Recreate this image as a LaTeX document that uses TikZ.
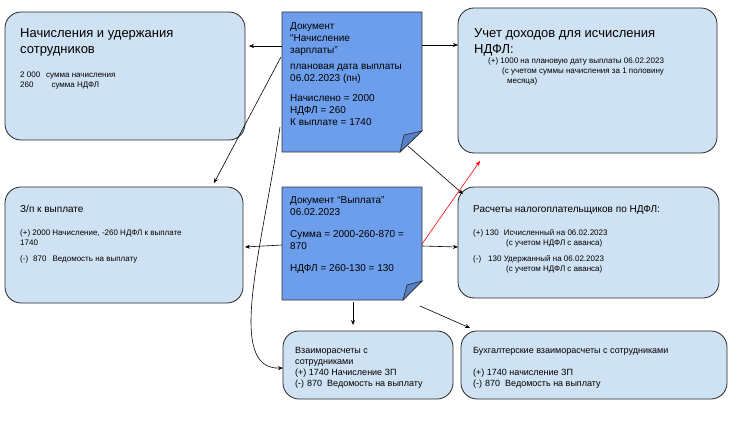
\documentclass[tikz,border=0pt]{standalone}
\usepackage{fontspec}
\setmainfont{Liberation Sans}
\usetikzlibrary{arrows.meta}
\begin{document}
\begin{tikzpicture}[x=1pt,y=-1pt,
  box/.style={draw=black!85,fill=blue!20!cyan!10!white,fill=boxfill,rounded corners=16pt,line width=0.8pt},
  txt/.style={anchor=north west,align=left,inner sep=0pt,font=\fontsize{8}{10}\selectfont},
  big/.style={anchor=north west,align=left,inner sep=0pt,font=\fontsize{13}{16}\selectfont},
  mid/.style={anchor=north west,align=left,inner sep=0pt,font=\fontsize{10}{12}\selectfont},
  arr/.style={-{Stealth[length=5pt,width=4pt]},line width=0.6pt},
  doc/.style={draw=black!80,fill=docfill,line width=0.7pt}]
\definecolor{boxfill}{HTML}{CFE2F3}
\definecolor{docfill}{HTML}{6D9EEB}
\definecolor{foldfill}{HTML}{5580C8}
\useasboundingbox (0,0) rectangle (738,425);
% boxes
\draw[box] (5,12) rectangle (245,140); \coordinate (A) at (125,76);
\draw[box] (458,8) rectangle (717,153);
\draw[box] (5,187) rectangle (243,303);
\draw[box] (458,187) rectangle (719,298);
\draw[box] (283,331) rectangle (453,399);
\draw[box] (461,331) rectangle (727,399);
% documents
\draw[doc] (282,12) -- (422,12) -- (422,131) -- (400,152) -- (282,152) -- cycle;
\draw[doc,fill=foldfill] (422,131) -- (404,135) -- (400,152) -- cycle;
\draw[doc] (282,187) -- (422,187) -- (422,281) -- (403,300) -- (282,300) -- cycle;
\draw[doc,fill=foldfill] (422,281) -- (407,285) -- (403,300) -- cycle;
% texts
\node[big] (tA) at (20,28) {Начисления и удержания\\сотрудников};
\node[txt] (tA2) at (20,72) {2 000\hspace{6pt}сумма начисления\\260\hspace{18pt}сумма НДФЛ};
\node[mid] (tD1) at (290,22) {Документ\\“Начисление\\зарплаты”};
\node[mid] (tD1b) at (290,64) {плановая дата выплаты\\06.02.2023 (пн)\\[8pt]Начислено = 2000\\НДФЛ = 260\\К выплате = 1740};
\node[big] (tB) at (474,28) {Учет доходов для исчисления\\НДФЛ:};
\node[txt] (tB2) at (488,58) {(+) 1000 на плановую дату выплаты 06.02.2023\\\hspace{14pt}(с учетом суммы начисления за 1 половину\\\hspace{19pt}месяца)};
\node[mid] (tC) at (20,205) {З/п к выплате};
\node[txt] (tC2) at (20,230) {(+) 2000 Начисление, -260 НДФЛ к выплате\\1740\\[6pt](-)\hspace{5pt}870\hspace{6pt}Ведомость на выплату};
\node[mid] (tD2) at (290,196) {Документ “Выплата”\\06.02.2023\\[10pt]Сумма = 2000-260-870 =\\870\\[10pt]НДФЛ = 260-130 = 130};
\node[mid] (tR) at (473,205) {Расчеты налогоплательщиков по НДФЛ:};
\node[txt] (tR2) at (473,229) {(+) 130\hspace{5pt}Исчисленный на 06.02.2023\\\hspace{33pt}(с учетом НДФЛ с аванса)\\[6pt](-)\hspace{7pt}130 Удержанный на 06.02.2023\\\hspace{33pt}(с учетом НДФЛ с аванса)};
\node[txt,font=\fontsize{9}{11}\selectfont] (tE) at (295,347) {Взаиморасчеты с\\сотрудниками\\(+) 1740 Начисление ЗП\\(-)\hspace{3pt}870\hspace{5pt}Ведомость на выплату};
\node[txt,font=\fontsize{9}{11}\selectfont] (tF) at (473,347) {Бухгалтерские взаиморасчеты с сотрудниками\\[11pt](+) 1740 начисление ЗП\\(-)\hspace{3pt}870\hspace{5pt}Ведомость на выплату};
% arrows
\coordinate (d1l) at (282,46); \coordinate (Ar) at (249,46);
\coordinate (d1r) at (422,45); \coordinate (Bl) at (458,45);
\coordinate (d1a) at (281,57); \coordinate (Ct) at (214,183);
\coordinate (d1b) at (280,127); \coordinate (El) at (283,368);
\coordinate (d1c) at (408,146); \coordinate (Dt) at (463,194);
\coordinate (d2l) at (282,245); \coordinate (Cr) at (245,247);
\coordinate (d2r) at (422,246); \coordinate (Dl) at (458,247);
\coordinate (d2red) at (422,244); \coordinate (Bb) at (480,161);
\coordinate (d2b) at (353,302); \coordinate (Et) at (353,325);
\coordinate (d2c) at (420,306); \coordinate (Ft) at (470,328);
\draw[arr] (d1l) -- (Ar);
\draw[arr] (d1r) -- (Bl);
\draw[arr] (d1a) -- (Ct);
\draw[arr] (d1b) .. controls (262,250) and (225,370) .. (El);
\draw[arr] (d1c) -- (Dt);
\draw[arr] (d2l) -- (Cr);
\draw[arr] (d2r) -- (Dl);
\draw[arr,red] (d2red) -- (Bb);
\draw[arr] (d2b) -- (Et);
\draw[arr] (d2c) -- (Ft);
\end{tikzpicture}
\end{document}
